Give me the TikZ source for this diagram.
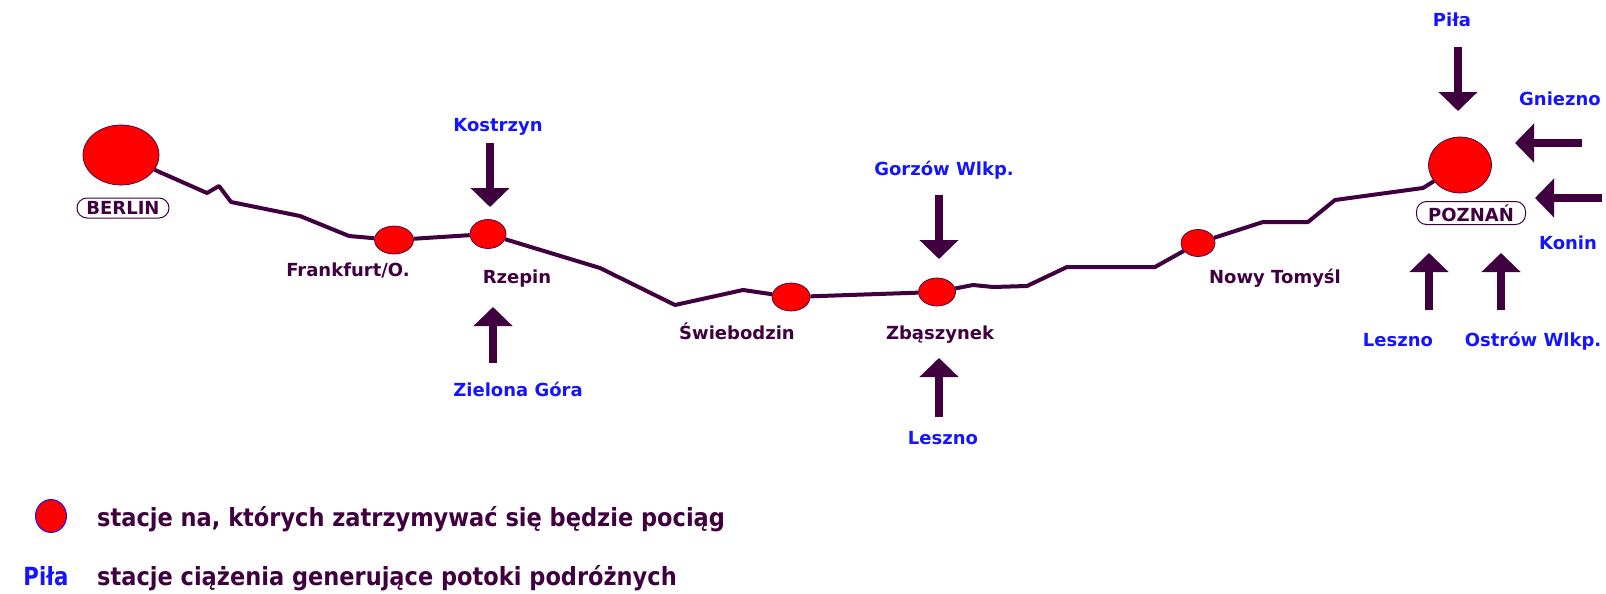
\documentclass[tikz,border=0pt]{standalone}
\usepackage{fontspec}
\usepackage{graphicx}
\setmainfont{DejaVu Sans}
\usetikzlibrary{shapes.geometric, arrows.meta}
\definecolor{rail}{HTML}{400040}
\definecolor{cityblue}{HTML}{1414FF}
\definecolor{stopred}{HTML}{FF0000}
\tikzset{
  stopdot/.style={ellipse, fill=stopred, draw=rail, line width=0.7pt, inner sep=0pt},
  railline/.style={draw=rail, line width=4pt, line join=round},
  feed/.style={draw=rail, line width=8pt, -{Triangle[width=38pt, length=19pt]}},
  stlabel/.style={text=rail, font=\bfseries\fontsize{18pt}{20pt}\selectfont, inner sep=0pt, anchor=base},
  srclabel/.style={text=cityblue, font=\bfseries\fontsize{18pt}{20pt}\selectfont, inner sep=0pt, anchor=base},
  citytag/.style={draw=rail, line width=1pt, rounded corners=10pt, text=rail,
    font=\bfseries\fontsize{18pt}{20pt}\selectfont, inner sep=0pt},
  legtext/.style={text=rail, font=\bfseries\fontsize{25pt}{28pt}\selectfont, inner sep=0pt, anchor=base west},
}
\begin{document}
\begin{tikzpicture}[x=1pt, y=-1pt]
\useasboundingbox (0,0) rectangle (1606,594);

% stations
\node[stopdot, minimum width=76pt, minimum height=60pt] (berlin) at (121,155) {};
\node[stopdot, minimum width=39pt, minimum height=28pt] (frank) at (394,240) {};
\node[stopdot, minimum width=36pt, minimum height=29pt] (rzepin) at (488,234) {};
\node[stopdot, minimum width=38pt, minimum height=28pt] (swieb) at (791,297) {};
\node[stopdot, minimum width=37pt, minimum height=28pt] (zbasz) at (937,292) {};
\node[stopdot, minimum width=34pt, minimum height=27pt] (nowy) at (1198,243) {};
\node[stopdot, minimum width=63pt, minimum height=56pt] (poznan) at (1460,165) {};

% railway line
\draw[railline] (berlin) -- (207,193) -- (219,186) -- (231,202) -- (300,216) -- (349,236) -- (frank);
\draw[railline] (frank) -- (rzepin);
\draw[railline] (rzepin) -- (600,268) -- (675,305) -- (743,290) -- (swieb);
\draw[railline] (swieb) -- (zbasz);
\draw[railline] (zbasz) -- (973,285) -- (993,287) -- (1027,286) -- (1067,267) -- (1155,267) -- (nowy);
\draw[railline] (nowy) -- (1263,222) -- (1308,222) -- (1335,200) -- (1423,188) -- (poznan);

% city tags
\node[citytag, minimum width=92pt, minimum height=20pt] (berlintag) at (123,208) {BERLIN};
\node[citytag, minimum width=109pt, minimum height=23pt] (poztag) at (1471,213) {POZNAŃ};

% station labels
\node[stlabel] (lfrank) at (348,276) {Frankfurt/O.};
\node[stlabel] (lrzep) at (517,283) {Rzepin};
\node[stlabel] (lswieb) at (737,339) {Świebodzin};
\node[stlabel] (lzbasz) at (940,339) {Zbąszynek};
\node[stlabel] (lnowy) at (1275,283) {Nowy Tomyśl};

% source labels
\node[srclabel] (lkos) at (498,131) {Kostrzyn};
\node[srclabel] (lziel) at (518,396) {Zielona Góra};
\node[srclabel] (lgorz) at (944,175) {Gorzów Wlkp.};
\node[srclabel] (lles1) at (943,444) {Leszno};
\node[srclabel] (lpila) at (1452,27) {Piła};
\node[srclabel] (lgnie) at (1560,105) {Gniezno};
\node[srclabel] (lkon) at (1568,249) {Konin};
\node[srclabel] (lles2) at (1398,346) {Leszno};
\node[srclabel] (lostr) at (1533,346) {Ostrów Wlkp.};

% feeder arrows
\coordinate (kosS) at (490,143);  \coordinate (kosT) at (490,207);
\coordinate (zielS) at (493,363); \coordinate (zielT) at (493,307);
\coordinate (gorzS) at (939,195); \coordinate (gorzT) at (939,259);
\coordinate (lesAS) at (939,417); \coordinate (lesAT) at (939,358);
\coordinate (pilaS) at (1458,47); \coordinate (pilaT) at (1458,111);
\coordinate (gnieS) at (1582,143); \coordinate (gnieT) at (1515,143);
\coordinate (konS) at (1602,198); \coordinate (konT) at (1535,198);
\coordinate (lesBS) at (1429,310); \coordinate (lesBT) at (1429,253);
\coordinate (ostS) at (1501,310); \coordinate (ostT) at (1501,253);
\draw[feed] (kosS) -- (kosT);
\draw[feed] (zielS) -- (zielT);
\draw[feed] (gorzS) -- (gorzT);
\draw[feed] (lesAS) -- (lesAT);
\draw[feed] (pilaS) -- (pilaT);
\draw[feed] (gnieS) -- (gnieT);
\draw[feed] (konS) -- (konT);
\draw[feed] (lesBS) -- (lesBT);
\draw[feed] (ostS) -- (ostT);

% legend
\node[ellipse, fill=stopred, draw=cityblue, line width=1pt, inner sep=0pt,
      minimum width=31pt, minimum height=33pt] (legdot) at (51,516) {};
\node[legtext] (leg1) at (97,526) {\scalebox{0.9}[1]{stacje na, których zatrzymywać się będzie pociąg}};
\node[legtext, text=cityblue, anchor=base] (legpila) at (46,585) {\scalebox{0.85}[1]{Piła}};
\node[legtext] (leg2) at (97,585) {\scalebox{0.9}[1]{stacje ciążenia generujące potoki podróżnych}};
\end{tikzpicture}
\end{document}
